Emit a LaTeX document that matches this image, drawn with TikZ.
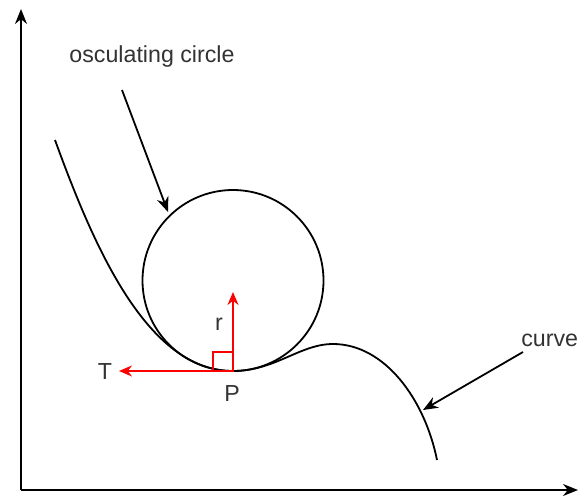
\documentclass[tikz,border=0pt]{standalone}
\usepackage{fontspec}
\setmainfont{Liberation Sans}
\usetikzlibrary{arrows.meta}

\begin{document}
\begin{tikzpicture}[x=0.5pt, y=-0.5pt, >={Stealth[length=7.5pt,width=6pt]},
    font=\fontsize{11.6}{13}\selectfont, line width=0.9pt,
    lbl/.style={text=black!80, inner sep=0pt}]
  \useasboundingbox (0,0) rectangle (579,499);

  % Axes
  \coordinate (origin) at (21,490);
  \coordinate (ytip) at (21,9);
  \coordinate (xtip) at (578,490);
  \draw[->] (origin) -- (ytip);
  \draw[->] (origin) -- (xtip);

  % Osculating circle and curve
  \coordinate (P) at (233,371);
  \draw (233,280.5) circle[radius=45.25pt];
  \draw (55,140) .. controls (95,250) and (148,371) .. (P)
    .. controls (275,371) and (300,344) .. (333,344)
    .. controls (385,344) and (425,400) .. (437,460);

  % Tangent and radius at P
  \coordinate (Ttip) at (119,371);
  \coordinate (rtip) at (233,292);
  \draw[red, line width=0.7pt] (213,371) rectangle (233,352);
  \draw[red, line width=0.9pt, -{Stealth[length=6.5pt,width=5.5pt]}] (P) -- (rtip);
  \draw[red, line width=0.9pt, -{Stealth[length=6.5pt,width=5.5pt]}] (P) -- (Ttip);
  \node[lbl] (Tlabel) at (105,372) {T};
  \node[lbl] (rlabel) at (219,324) {r};
  \node[lbl] (Plabel) at (232,394) {P};

  % Pointers
  \node[lbl] (osclabel) at (152,56) {osculating circle};
  \coordinate (oscstart) at (122,90);
  \coordinate (oschit) at (168,212);
  \draw[->] (oscstart) -- (oschit);
  \node[lbl, anchor=east] (curvelabel) at (579,340) {curve};
  \coordinate (curvestart) at (523,352);
  \coordinate (curvehit) at (423,410);
  \draw[->] (curvestart) -- (curvehit);
\end{tikzpicture}
\end{document}
